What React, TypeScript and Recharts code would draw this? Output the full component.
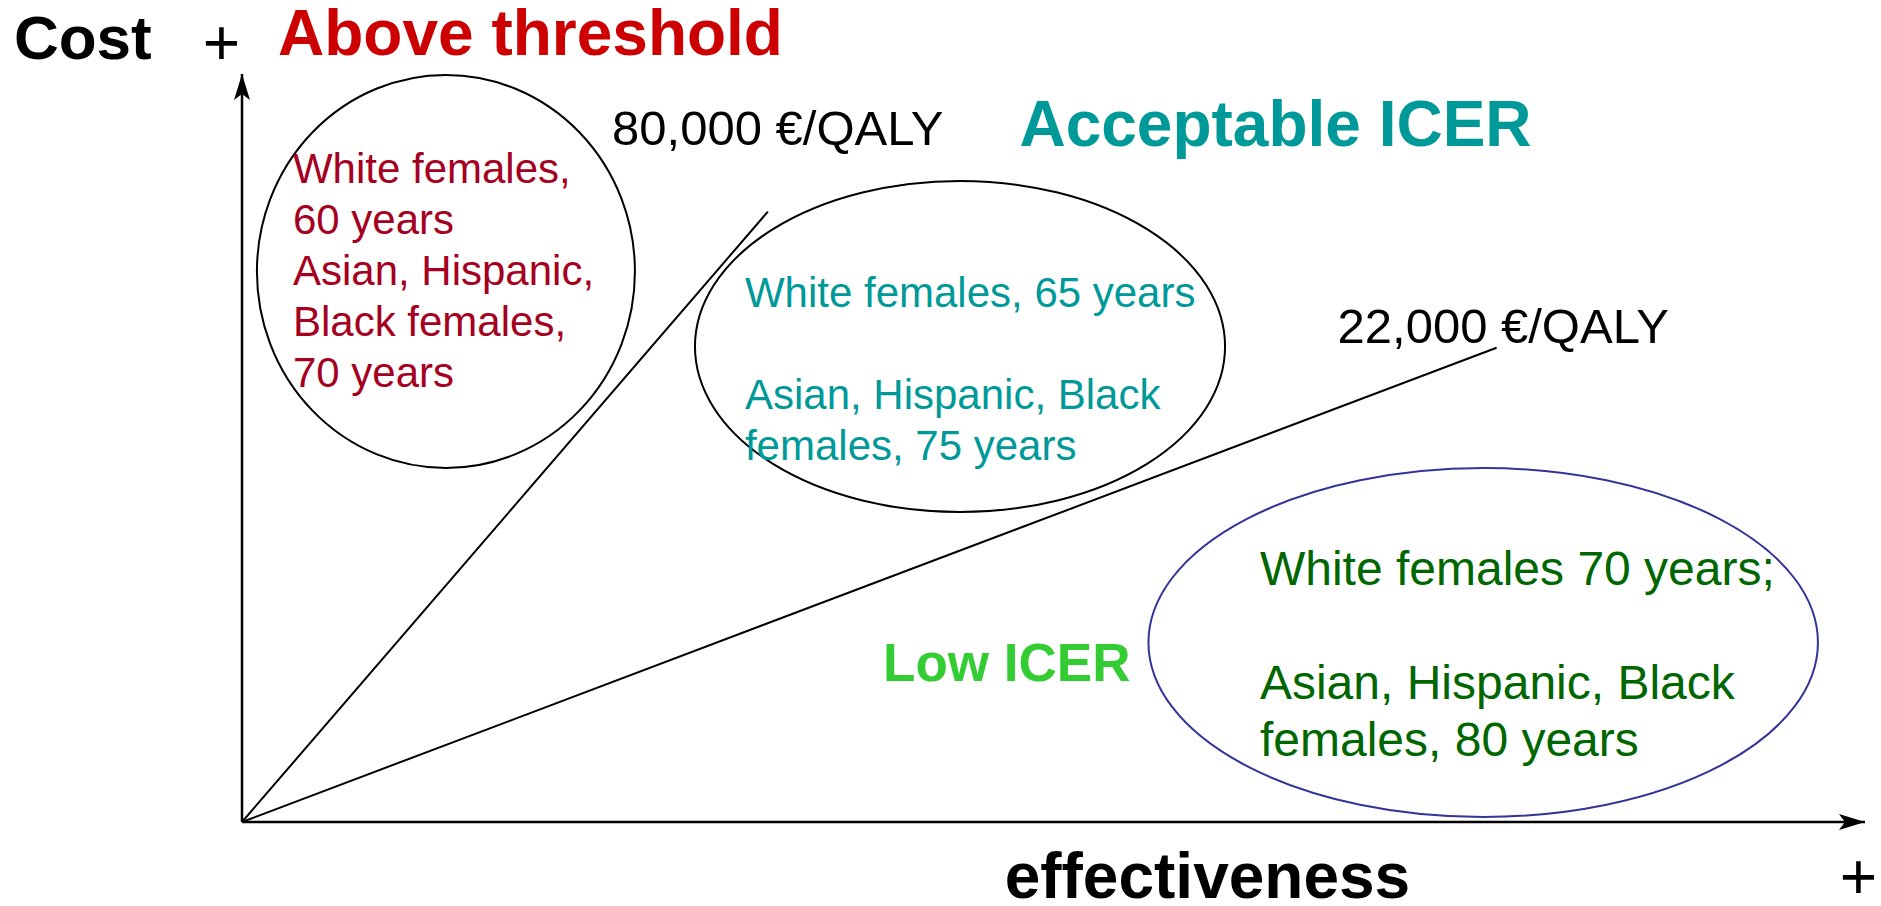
import {
  ScatterChart,
  Scatter,
  XAxis,
  YAxis,
  ReferenceLine,
  ReferenceArea,
  ReferenceDot,
} from "recharts";

// cost-effectiveness plane, arbitrary units (0-100) on both axes
const thresholdLabels = ["80,000 €/QALY", "22,000 €/QALY"];
const thresholdEnds = [
  { effect: 32.4, cost: 81.6 },
  { effect: 77.3, cost: 63.4 },
];
const thresholdLabelAt = [
  { effect: 22.8, cost: 90.5 },
  { effect: 67.5, cost: 64.0 },
];

const zoneTitles = ["Above threshold", "Acceptable ICER", "Low ICER"];
const zoneTitleAt = [
  { effect: 2.22, cost: 102.55 },
  { effect: 47.9, cost: 90.4 },
  { effect: 39.5, cost: 18.85 },
];

// ellipse bounds: [effect1, effect2, cost1, cost2]
const zoneBounds = [
  [0.92, 24.21, 47.33, 99.87],
  [27.91, 60.57, 41.44, 85.7],
  [55.85, 97.1, 0.67, 47.33],
];
const zoneGroups = [
  ["White females,", "60 years", "Asian, Hispanic,", "Black females,", "70 years"],
  ["White females, 65 years", "", "Asian, Hispanic, Black", "females, 75 years"],
  ["White females 70 years;", "", "Asian, Hispanic, Black", "females, 80 years"],
];
const zoneGroupAt = [
  { effect: 3.14, cost: 85.43 },
  { effect: 30.99, cost: 68.85 },
  { effect: 62.72, cost: 31.68 },
];

const axisLabels = ["Cost", "+", "effectiveness", "+"];
const axisLabelAt = [
  { effect: -14.05, cost: 102.0 },
  { effect: -1.26, cost: 101.2 },
  { effect: 46.99, cost: -10.1 },
  { effect: 99.6, cost: -10.3 },
];

const FONT = "'Liberation Sans', Arial, Helvetica, sans-serif";
const TITLE_COLORS = ["#cc0000", "#009999", "#33cc33"];
const TITLE_SIZES = [64, 64, 53];
const GROUP_COLORS = ["#a50021", "#009999", "#006600"];
const GROUP_SIZES = [42, 42, 48];
const GROUP_LEADING = [51, 51, 57];
const ELLIPSE_STROKE = ["#000000", "#000000", "#333399"];
const AXIS_LABEL_STYLE = [
  { size: 62, weight: 700, anchor: "start" },
  { size: 64, weight: 400, anchor: "middle" },
  { size: 64, weight: 700, anchor: "start" },
  { size: 64, weight: 400, anchor: "middle" },
];

const textShape =
  (lines: string[], color: string, size: number, weight = 400, leading = 0, anchor = "start") =>
  (p: any) => (
    <text
      x={p.cx}
      y={p.cy}
      fill={color}
      fontSize={size}
      fontWeight={weight}
      fontFamily={FONT}
      textAnchor={anchor}
    >
      {lines.map((l, i) => (
        <tspan key={i} x={p.cx} dy={i === 0 ? 0 : leading}>
          {l || " "}
        </tspan>
      ))}
    </text>
  );

const arrowHead = (dir: "up" | "right") => (p: any) => {
  const { cx, cy } = p;
  const pts =
    dir === "up"
      ? [[cx, cy], [cx + 8, cy + 26], [cx, cy + 20], [cx - 8, cy + 26]]
      : [[cx, cy], [cx - 26, cy + 8], [cx - 20, cy], [cx - 26, cy - 8]];
  return <polygon points={pts.map((q) => q.join(",")).join(" ")} fill="#000" />;
};

export default function App() {
  return (
    <div style={{ position: "absolute", left: 0, top: 0, background: "#fff" }}>
      <ScatterChart
        width={1881}
        height={906}
        margin={{ top: 74, right: 16, bottom: 84, left: 242 }}
      >
        <XAxis type="number" dataKey="effect" domain={[0, 100]} hide />
        <YAxis type="number" dataKey="cost" domain={[0, 100]} hide />

        <ReferenceLine
          segment={[{ x: 0, y: 0 }, { x: 100, y: 0 }]}
          stroke="#000"
          strokeWidth={2.5}
          ifOverflow="visible"
        />
        <ReferenceLine
          segment={[{ x: 0, y: 0 }, { x: 0, y: 100 }]}
          stroke="#000"
          strokeWidth={2.5}
          ifOverflow="visible"
        />
        <ReferenceDot x={100} y={0} r={0} ifOverflow="visible" shape={arrowHead("right")} />
        <ReferenceDot x={0} y={100} r={0} ifOverflow="visible" shape={arrowHead("up")} />

        {thresholdEnds.map((end, i) => (
          <Scatter
            key={`thr-${i}`}
            data={[{ effect: 0, cost: 0 }, end]}
            line={{ stroke: "#000", strokeWidth: 2 }}
            shape={() => <g />}
            isAnimationActive={false}
          />
        ))}

        {zoneBounds.map(([x1, x2, y1, y2], i) => (
          <ReferenceArea
            key={`zone-${i}`}
            x1={x1}
            x2={x2}
            y1={y1}
            y2={y2}
            ifOverflow="visible"
            shape={(p: any) => (
              <ellipse
                cx={p.x + p.width / 2}
                cy={p.y + p.height / 2}
                rx={Math.abs(p.width) / 2}
                ry={Math.abs(p.height) / 2}
                fill="none"
                stroke={ELLIPSE_STROKE[i]}
                strokeWidth={2}
              />
            )}
          />
        ))}

        {thresholdLabels.map((t, i) => (
          <ReferenceDot
            key={`tl-${i}`}
            x={thresholdLabelAt[i].effect}
            y={thresholdLabelAt[i].cost}
            r={0}
            ifOverflow="visible"
            shape={textShape([t], "#000", 49)}
          />
        ))}

        {zoneTitles.map((t, i) => (
          <ReferenceDot
            key={`zt-${i}`}
            x={zoneTitleAt[i].effect}
            y={zoneTitleAt[i].cost}
            r={0}
            ifOverflow="visible"
            shape={textShape([t], TITLE_COLORS[i], TITLE_SIZES[i], 700)}
          />
        ))}

        {zoneGroups.map((lines, i) => (
          <ReferenceDot
            key={`zg-${i}`}
            x={zoneGroupAt[i].effect}
            y={zoneGroupAt[i].cost}
            r={0}
            ifOverflow="visible"
            shape={textShape(lines, GROUP_COLORS[i], GROUP_SIZES[i], 400, GROUP_LEADING[i])}
          />
        ))}

        {axisLabels.map((t, i) => (
          <ReferenceDot
            key={`al-${i}`}
            x={axisLabelAt[i].effect}
            y={axisLabelAt[i].cost}
            r={0}
            ifOverflow="visible"
            shape={textShape(
              [t],
              "#000",
              AXIS_LABEL_STYLE[i].size,
              AXIS_LABEL_STYLE[i].weight,
              0,
              AXIS_LABEL_STYLE[i].anchor
            )}
          />
        ))}
      </ScatterChart>
    </div>
  );
}
